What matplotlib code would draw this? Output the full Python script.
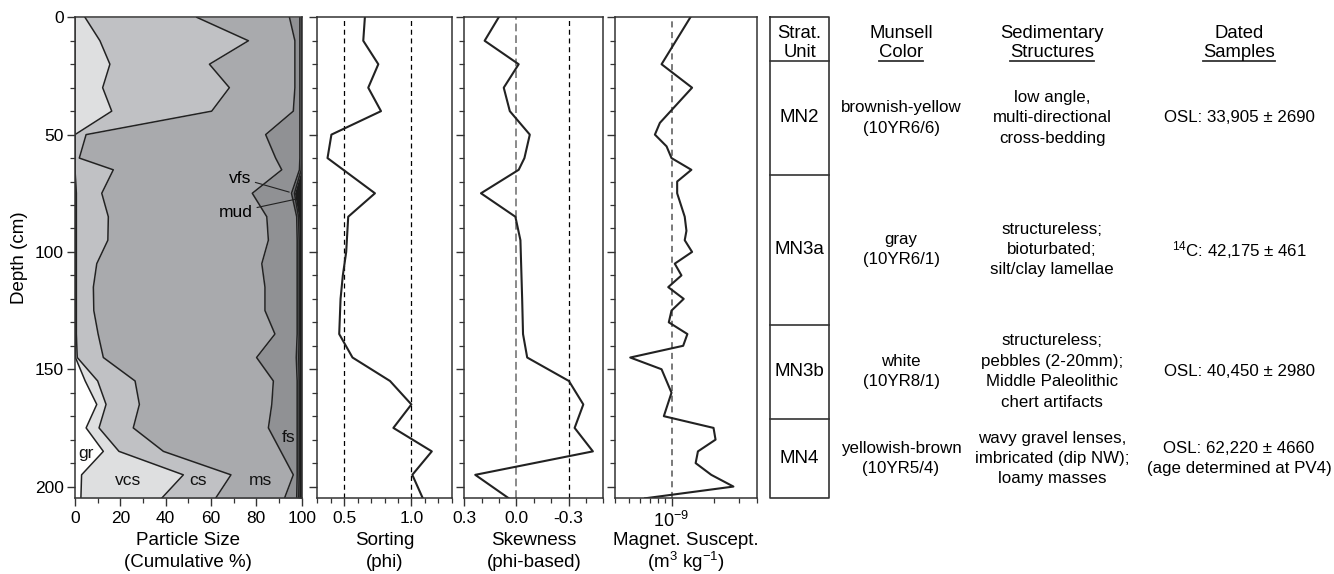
import numpy as np
import matplotlib.pyplot as plt
from matplotlib.ticker import MultipleLocator, FixedLocator, FixedFormatter, LogLocator, NullFormatter

plt.rcParams['font.family'] = ['Liberation Sans', 'DejaVu Sans']
plt.rcParams['mathtext.default'] = 'regular'
plt.rcParams['axes.unicode_minus'] = False

# --- particle size, cumulative % at each sample depth (cm) ---
ps_depth = [0, 10, 20, 30, 40, 50, 60, 65, 75, 85, 95, 105, 115, 125, 135, 145, 155, 165, 175, 185, 195, 205]
gr_cum  = [0, 0, 0, 0, 0, 0, 0, 0, 0.3, 0.3, 0.3, 0.3, 0.3, 0.3, 0.3, 0.2, 4.5, 9.6, 4.9, 12.5, 2.9, 2.6]
vcs_cum = [4.4, 11, 15.4, 12.2, 16.2, 0, 0, 0, 0.6, 0.6, 0.6, 0.6, 0.6, 0.6, 0.6, 1.0, 10.0, 13.7, 10.6, 19.4, 47.8, 38.2]
cs_cum  = [53.7, 76.5, 59.3, 68.1, 60.3, 4.9, 1.9, 16.9, 11.8, 14.7, 14.5, 9.6, 8.1, 8.3, 10.2, 12.5, 26.5, 28.4, 25.7, 39.0, 68.8, 62.0]
ms_cum  = [94.6, 97, 97, 97, 96.3, 84.1, 88.5, 91.2, 78.2, 84.6, 85.3, 82.4, 83.8, 83.8, 88.2, 80.1, 87.5, 86.8, 85.3, 90.8, 96.3, 92.4]
fs_cum  = [99.2, 99.2, 99.2, 99.2, 99.2, 99.2, 99.2, 99.0, 95.5, 97.8, 98.0, 98.0, 98.0, 98.0, 98.0, 97.6, 98.0, 98.0, 98.0, 98.0, 98.0, 97.8]
vfs_cum = [100, 100, 100, 100, 100, 100, 100, 99.8, 96.8, 98.6, 98.9, 98.9, 98.9, 98.9, 98.9, 98.7, 98.9, 98.9, 98.9, 98.9, 98.9, 98.7]

# --- sorting (phi) ---
sort_depth = [0, 10, 20, 30, 40, 50, 60, 75, 85, 100, 110, 120, 135, 145, 155, 165, 175, 185, 195, 205]
sort_phi = [0.654, 0.642, 0.754, 0.679, 0.774, 0.405, 0.376, 0.729, 0.530, 0.515, 0.49, 0.473, 0.463,
            0.562, 0.841, 1.0, 0.866, 1.152, 1.007, 1.085]

# --- skewness (phi-based) ---
skew_depth = [0, 10, 20, 30, 40, 50, 60, 65, 75, 85, 95, 105, 120, 135, 145, 155, 165, 175, 185, 195, 205]
skew_phi = [0.102, 0.183, -0.013, 0.073, 0.038, -0.077, -0.046, -0.013, 0.204, 0.006, -0.023, -0.027,
            -0.033, -0.038, -0.062, -0.302, -0.385, -0.335, -0.44, 0.237, 0.044]

# --- magnetic susceptibility (x 1e-9 m3/kg) ---
mag_depth = [0, 20, 30, 45, 50, 55, 60, 65, 70, 75, 85, 91, 95, 100, 105, 110, 115, 120, 125, 130, 135,
             140, 145, 150, 160, 170, 175, 180, 185, 190, 195, 200, 205]
mag_e9 = [1.358, 0.851, 1.396, 0.828, 0.764, 0.923, 1.0, 1.380, 1.096, 1.096, 1.239, 1.274, 1.239, 1.396,
          1.054, 1.175, 0.948, 1.219, 1.0, 0.957, 1.294, 1.208, 0.512, 0.851, 1.0, 0.883, 1.977, 2.042,
          1.535, 1.479, 1.905, 2.729, 0.652]

# --- stratigraphic table ---
units = ['MN2', 'MN3a', 'MN3b', 'MN4']
unit_top = [18.7, 67, 131, 171]
unit_base = [67, 131, 171, 205]
munsell = ['brownish-yellow\n(10YR6/6)', 'gray\n(10YR6/1)', 'white\n(10YR8/1)', 'yellowish-brown\n(10YR5/4)']
structures = ['low angle,\nmulti-directional\ncross-bedding',
              'structureless;\nbioturbated;\nsilt/clay lamellae',
              'structureless;\npebbles (2-20mm);\nMiddle Paleolithic\nchert artifacts',
              'wavy gravel lenses,\nimbricated (dip NW);\nloamy masses']
dated = ['OSL: 33,905 \u00b1 2690', '$^{14}$C: 42,175 \u00b1 461', 'OSL: 40,450 \u00b1 2980',
         'OSL: 62,220 \u00b1 4660\n(age determined at PV4)']

W, H = 1334, 574
fig = plt.figure(figsize=(W / 100, H / 100), dpi=100)
Y0, Y1 = 17.3, 498.3
DMAX = 205
INK = '#222222'
SPINE = '#333333'
LAB = dict(fontsize=13.5, labelpad=4.5, linespacing=1.4)


def px_axes(x0, x1):
    return fig.add_axes([x0 / W, 1 - Y1 / H, (x1 - x0) / W, (Y1 - Y0) / H])


def style(ax, ylabels=False):
    ax.set_ylim(DMAX, 0)
    ax.yaxis.set_major_locator(MultipleLocator(50))
    ax.yaxis.set_minor_locator(MultipleLocator(10))
    if not ylabels:
        ax.set_yticklabels([])
    for s in ax.spines.values():
        s.set_color(SPINE)
        s.set_linewidth(1.1)
    ax.tick_params(which='major', direction='out', length=6, width=1, color=SPINE, labelsize=12.5)
    ax.tick_params(which='minor', direction='out', length=3.5, width=0.9, color=SPINE)
    ax.tick_params(axis='y', pad=2)
    ax.tick_params(axis='x', pad=3)


# particle size panel
ax1 = px_axes(75, 301.7)
bounds = [np.zeros(len(ps_depth)), gr_cum, vcs_cum, cs_cum, ms_cum, fs_cum, vfs_cum, np.full(len(ps_depth), 100)]
fills = ['white', '#dedfe0', '#c0c1c4', '#a9aaad', '#909194', '#6f7073', '#1c1c1c']
for i, c in enumerate(fills):
    ax1.fill_betweenx(ps_depth, bounds[i], bounds[i + 1], color=c, lw=0)
for b in bounds[1:-1]:
    ax1.plot(b, ps_depth, color=INK, lw=1.1)
ax1.set_xlim(0, 100)
style(ax1, ylabels=True)
ax1.xaxis.set_major_locator(MultipleLocator(20))
ax1.xaxis.set_minor_locator(MultipleLocator(10))
ax1.set_ylabel('Depth (cm)', fontsize=13.5, labelpad=5)
ax1.set_xlabel('Particle Size\n(Cumulative %)', **LAB)
for txt, x, y in [('gr', 4.9, 186), ('vcs', 23.5, 197.4), ('cs', 54.4, 197.4), ('ms', 81.6, 197.4), ('fs', 94.1, 179)]:
    ax1.text(x, y, txt, fontsize=12.5, ha='center', va='center', color='#111111')
ax1.annotate('vfs', xy=(94.5, 74.5), xytext=(72.8, 68.5), fontsize=12.5, ha='center', va='center',
             arrowprops=dict(arrowstyle='-', lw=0.8, color=INK, shrinkA=1, shrinkB=0))
ax1.annotate('mud', xy=(97, 77.6), xytext=(71, 83), fontsize=12.5, ha='center', va='center',
             arrowprops=dict(arrowstyle='-', lw=0.8, color=INK, shrinkA=1, shrinkB=0))

# sorting panel
ax2 = px_axes(317.3, 451.7)
for v in [0.5, 1.0]:
    ax2.axvline(v, color='black', lw=0.9, dashes=(4, 3))
ax2.plot(sort_phi, sort_depth, color=INK, lw=1.5)
ax2.set_xlim(0.3, 1.3)
style(ax2)
ax2.xaxis.set_major_locator(FixedLocator([0.5, 1.0]))
ax2.xaxis.set_major_formatter(FixedFormatter(['0.5', '1.0']))
ax2.xaxis.set_minor_locator(MultipleLocator(0.1))
ax2.set_xlabel('Sorting\n(phi)', **LAB)

# skewness panel
ax3 = px_axes(464.3, 603.3)
ax3.axvline(0.0, color='#8a8a8a', lw=1.4, dashes=(4, 2))
ax3.axvline(-0.3, color='black', lw=0.9, dashes=(4, 3))
ax3.plot(skew_phi, skew_depth, color=INK, lw=1.5)
ax3.set_xlim(0.3, -0.5)
style(ax3)
ax3.xaxis.set_major_locator(FixedLocator([0.3, 0.0, -0.3]))
ax3.xaxis.set_major_formatter(FixedFormatter(['0.3', '0.0', '-0.3']))
ax3.xaxis.set_minor_locator(MultipleLocator(0.1))
ax3.set_xlabel('Skewness\n(phi-based)', **LAB)

# magnetic susceptibility panel
ax4 = px_axes(615, 757)
mag = np.array(mag_e9) * 1e-9
ax4.axvline(1e-9, color='#555555', lw=1.1, dashes=(4, 3))
ax4.plot(mag, mag_depth, color=INK, lw=1.5)
ax4.set_xscale('log')
ax4.set_xlim(4e-10, 4e-9)
style(ax4)
ax4.xaxis.set_major_locator(FixedLocator([1e-9]))
ax4.xaxis.set_minor_locator(LogLocator(base=10, subs=np.arange(2, 10)))
ax4.xaxis.set_minor_formatter(NullFormatter())
ax4.tick_params(axis='x', which='major', labelsize=13)
ax4.set_xlabel('Magnet. Suscept.\n(m$^3$ kg$^{-1}$)', fontsize=13.5, labelpad=1, linespacing=1.05)

# stratigraphic table
axt = px_axes(770, 1334)
axt.set_xlim(0, 564)
axt.set_ylim(DMAX, 0)
axt.axis('off')
box_w = 59.3
axt.plot([0, 0, box_w, box_w, 0], [0, DMAX, DMAX, 0, 0], color=SPINE, lw=1.2, clip_on=False)
for t in unit_top:
    axt.plot([0, box_w], [t, t], color=SPINE, lw=1.2, clip_on=False)

col_x = [box_w / 2, 131, 282, 469]
axt.text(col_x[0], 9, 'Strat.', fontsize=13.3, ha='center', va='baseline')
axt.text(col_x[0], 16.8, 'Unit', fontsize=13.3, ha='center', va='baseline')
head1 = ['Munsell', 'Sedimentary', 'Dated']
head2 = ['Color', 'Structures', 'Samples']
under = []
for x, a, b in zip(col_x[1:], head1, head2):
    axt.text(x, 9, a, fontsize=13.3, ha='center', va='baseline')
    under.append(axt.text(x, 16.8, b, fontsize=13.3, ha='center', va='baseline'))

for i, u in enumerate(units):
    yc = (unit_top[i] + unit_base[i]) / 2
    axt.text(col_x[0], yc, u, fontsize=13.5, ha='center', va='center')
    axt.text(col_x[1], yc, munsell[i], fontsize=12.2, ha='center', va='center', linespacing=1.45)
    axt.text(col_x[2], yc, structures[i], fontsize=12.2, ha='center', va='center', linespacing=1.45)
    axt.text(col_x[3], yc, dated[i], fontsize=12.2, ha='center', va='center', linespacing=1.45)

fig.canvas.draw()
r = fig.canvas.get_renderer()
inv = axt.transData.inverted()
for t in under:
    bb = t.get_window_extent(r)
    xa = inv.transform((bb.x0, bb.y0))[0]
    xb = inv.transform((bb.x1, bb.y0))[0]
    axt.plot([xa, xb], [18.7, 18.7], color=SPINE, lw=1.3, clip_on=False)

fig.savefig('out.png', dpi=100)
